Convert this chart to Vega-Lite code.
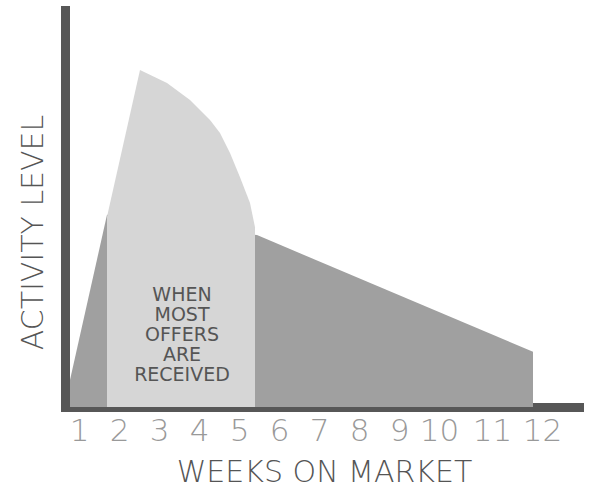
{
  "$schema": "https://vega.github.io/schema/vega-lite/v6.json",
  "width": 514,
  "height": 397,
  "autosize": "none",
  "padding": {"left": 65, "top": 10, "right": 13, "bottom": 80},
  "background": "white",
  "config": {"view": {"stroke": null}},
  "datasets": {
    "dark": [
      {"week": 0.775, "activity": 6.8},
      {"week": 1.7, "activity": 48.4},
      {"week": 5.45, "activity": 43.3},
      {"week": 12.35, "activity": 13.9}
    ],
    "light": [
      {"week": 1.7, "activity": 47.9},
      {"week": 2.525, "activity": 84.9},
      {"week": 3.2, "activity": 81.6},
      {"week": 3.775, "activity": 77.3},
      {"week": 4.275, "activity": 72.3},
      {"week": 4.525, "activity": 69.0},
      {"week": 4.775, "activity": 64.0},
      {"week": 5.025, "activity": 57.9},
      {"week": 5.275, "activity": 51.4},
      {"week": 5.4, "activity": 45.3}
    ],
    "note": [
      {"week": 3.575, "activity": 28.2, "label": "WHEN\nMOST\nOFFERS\nARE\nRECEIVED"}
    ]
  },
  "encoding": {
    "x": {
      "field": "week",
      "type": "quantitative",
      "scale": {"domain": [0.65, 13.5], "nice": false, "zero": false},
      "axis": {
        "title": "WEEKS ON MARKET",
        "values": [1, 2, 3, 4, 5, 6, 7, 8, 9, 10, 11.325, 12.575],
        "labelExpr": "datum.value == 11.325 ? '11' : datum.value == 12.575 ? '12' : datum.label",
        "grid": false,
        "ticks": false,
        "domainColor": "#575757",
        "domainWidth": 9,
        "domainCap": "square",
        "labelFont": "DejaVu Sans",
        "labelFontWeight": 200,
        "labelFontSize": 31,
        "labelColor": "#999999",
        "labelBaseline": "middle",
        "labelPadding": 24,
        "labelFlush": false,
        "labelOverlap": false,
        "titleFont": "DejaVu Sans",
        "titleFontWeight": 200,
        "titleFontSize": 30,
        "titleColor": "#555555",
        "titleBaseline": "middle",
        "titleX": 259,
        "titleY": 65
      }
    },
    "y": {
      "field": "activity",
      "type": "quantitative",
      "scale": {"domain": [0, 100], "nice": false},
      "axis": {
        "title": "ACTIVITY LEVEL",
        "labels": false,
        "ticks": false,
        "grid": false,
        "domainColor": "#575757",
        "domainWidth": 9,
        "domainCap": "square",
        "titleFont": "DejaVu Sans",
        "titleFontWeight": 200,
        "titleFontSize": 30,
        "titleColor": "#555555",
        "titleAngle": -90,
        "titleAlign": "center",
        "titleBaseline": "middle",
        "titleX": -32,
        "titleY": 222
      }
    }
  },
  "layer": [
    {"data": {"name": "dark"}, "mark": {"type": "area", "color": "#a0a0a0", "interpolate": "linear"}},
    {"data": {"name": "light"}, "mark": {"type": "area", "color": "#d6d6d6", "interpolate": "linear"}},
    {
      "data": {"name": "note"},
      "mark": {
        "type": "text",
        "lineBreak": "\n",
        "font": "DejaVu Sans",
        "fontSize": 19,
        "lineHeight": 20,
        "color": "#555555",
        "align": "center",
        "baseline": "middle"
      },
      "encoding": {"text": {"field": "label"}}
    }
  ]
}
